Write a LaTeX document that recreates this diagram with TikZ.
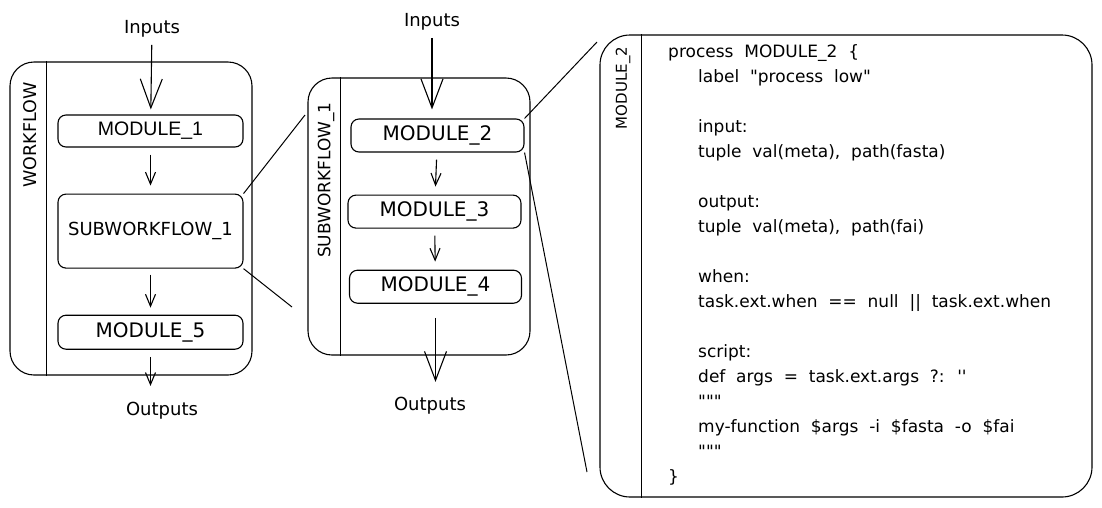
\documentclass[tikz,border=0pt]{standalone}
\usepackage{fontspec}
\setmainfont{DejaVu Sans}
\newfontfamily\helvfont{Liberation Sans}
\newfontfamily\listingfont{DejaVu Sans}[WordSpace=2]
\usepackage{tikz}
\usetikzlibrary{positioning,arrows.meta}
\tikzset{
  groupbox/.style={draw,line width=1.1pt,rounded corners=24pt,inner sep=0pt},
  modbox/.style={draw,line width=1.1pt,rounded corners=8pt,inner sep=0pt,
    minimum width=185pt,minimum height=33pt,font=\fontsize{20}{22}\selectfont},
  sidelabel/.style={rotate=90,font=\fontsize{17.5}{20}\selectfont},
  iolabel/.style={font=\fontsize{18}{20}\selectfont},
  divider/.style={line width=1.1pt},
  flow/.style={-{Straight Barb[length=12pt,width=10pt]},line width=1.1pt,
    shorten <=7pt,shorten >=8pt},
  bigflow/.style={-{Straight Barb[length=29pt,width=22pt]},line width=1.1pt},
  zoomline/.style={line width=1pt},
  codetext/.style={align=left,inner sep=0pt,font=\listingfont\fontsize{17}{25}\selectfont}
}

\begin{document}
\begin{tikzpicture}[x=1pt,y=-1pt,node distance=46pt]
\useasboundingbox (0,0) rectangle (1102,507);

\node[groupbox,minimum width=242pt,minimum height=313pt] (wf) at (131,218.5) {};
\draw[divider] ([xshift=37pt]wf.north west) -- ([xshift=37pt]wf.south west);
\node[sidelabel] (wflbl) at (30,135) {WORKFLOW};

\node[modbox,font=\helvfont\fontsize{19.5}{22}\selectfont,minimum height=32pt] (m1) at (150.5,131) {MODULE\_1};
\node[modbox,minimum height=74pt,below=of m1,font=\fontsize{18}{20}\selectfont] (sub1) {SUBWORKFLOW\_1};
\node[modbox,minimum height=34pt,below=of sub1] (m5) {MODULE\_5};

\node[iolabel] (in1) at (152,29) {Inputs};
\node[iolabel] (out1) at (162,411) {Outputs};

\draw[bigflow,shorten <=4pt,shorten >=5pt] (in1) -- (m1);
\draw[flow] (m1) -- (sub1);
\draw[flow,shorten <=6pt,shorten >=7pt] (sub1) -- (m5);
\draw[flow,shorten <=7pt,shorten >=13pt] (m5.south) -- (m5.south |- out1.north);

\node[groupbox,minimum width=222pt,minimum height=277pt] (swf) at (419,216.5) {};
\draw[divider] ([xshift=33pt]swf.north west) -- ([xshift=33pt]swf.south west);
\node[sidelabel,font=\fontsize{17}{20}\selectfont] (swflbl) at (326,180) {SUBWORKFLOW\_1};

\node[modbox,minimum width=173pt] (m2) at (437.5,135.5) {MODULE\_2};
\node[modbox,minimum width=173pt,below=42pt of m2,xshift=-3pt] (m3) {MODULE\_3};
\node[modbox,minimum width=172pt,below=41pt of m3,xshift=1pt] (m4) {MODULE\_4};

\node[iolabel] (in2) at (432,22) {Inputs};
\node[iolabel] (out2) at (430,406) {Outputs};

\draw[bigflow,shorten <=4pt,shorten >=9pt] (in2.south) -- (in2.south |- m2.north);
\draw[flow] (m2) -- (m3);
\draw[flow] (m3) -- (m4);
\draw[bigflow,shorten <=14pt,shorten >=12pt] (m4.south) -- (m4.south |- out2.north);

\node[groupbox,rounded corners=30pt,minimum width=492pt,minimum height=462pt] (code) at (846,266) {};
\draw[divider] ([xshift=42pt]code.north west) -- ([xshift=42pt]code.south west);
\node[sidelabel,font=\fontsize{15}{18}\selectfont] (codelbl) at (623,88) {MODULE\_2};

\node[codetext,anchor=north west] (src) at (668,44) {process MODULE\_2 \{\\
\hspace*{30pt}label "process low"\\[25pt]
\hspace*{30pt}input:\\
\hspace*{30pt}tuple val(meta), path(fasta)\\[25pt]
\hspace*{30pt}output:\\
\hspace*{30pt}tuple val(meta), path(fai)\\[25pt]
\hspace*{30pt}when:\\
\hspace*{30pt}task.ext.when == null || task.ext.when\\[25pt]
\hspace*{30pt}script:\\
\hspace*{30pt}def args = task.ext.args ?: \textquotesingle\textquotesingle\\
\hspace*{30pt}"""\\
\hspace*{30pt}my-function \$args -i \$fasta -o \$fai\\
\hspace*{30pt}"""\\
\}};

\coordinate (swfA) at (305,115);
\coordinate (swfB) at (292,307);
\coordinate (codeA) at (597,42);
\coordinate (codeB) at (587,472);

\draw[zoomline] (sub1.north east) -- (swfA);
\draw[zoomline] (sub1.south east) -- (swfB);
\draw[zoomline] (m2.north east) -- (codeA);
\draw[zoomline] (m2.south east) -- (codeB);

\end{tikzpicture}
\end{document}
